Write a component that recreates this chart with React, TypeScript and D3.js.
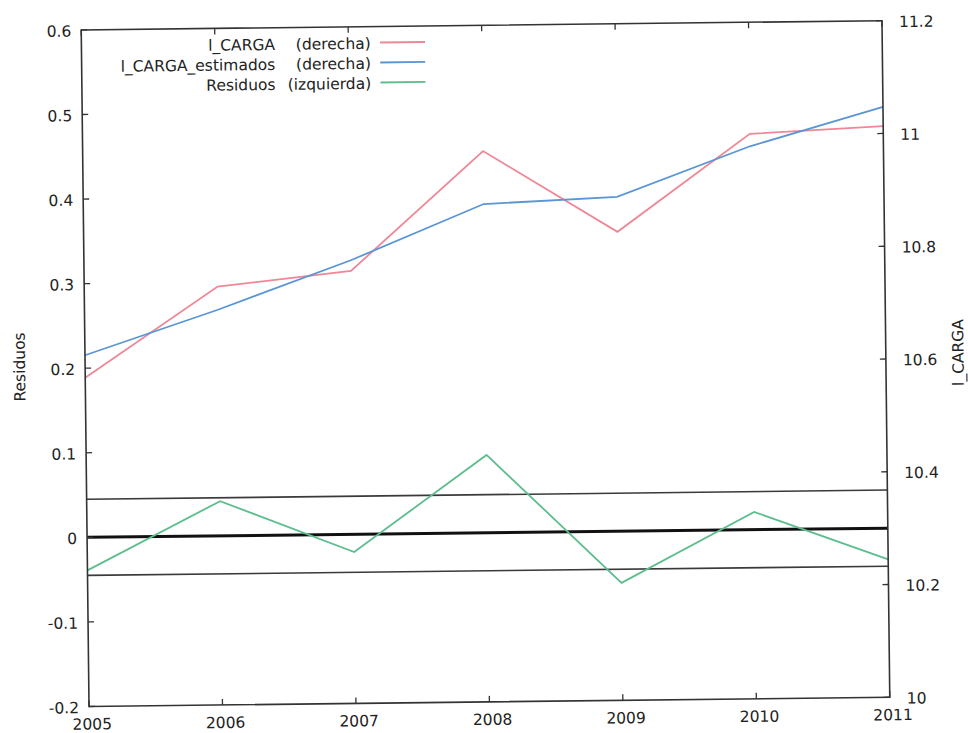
import React from 'react';
import * as d3 from 'd3';

const years = [2005, 2006, 2007, 2008, 2009, 2010, 2011];
const lCarga = [10.583, 10.742, 10.767, 10.977, 10.831, 11.002, 11.013];
const lCargaEst = [10.623, 10.701, 10.786, 10.883, 10.893, 10.98, 11.047];
const residuos = [-0.039, 0.041, -0.021, 0.092, -0.061, 0.021, -0.037];
const leftTicks = [-0.2, -0.1, 0, 0.1, 0.2, 0.3, 0.4, 0.5, 0.6];
const rightTicks = [10, 10.2, 10.4, 10.6, 10.8, 11, 11.2];
const bandLevels = [0.045, -0.045];
const zeroLevel = 0;
const legendNames = ['l_CARGA', 'l_CARGA_estimados', 'Residuos'];
const legendSides = ['(derecha)', '(derecha)', '(izquierda)'];
const seriesColors = ['#ef8796', '#5a95d6', '#5dbd8e'];

const W = 968;
const H = 733;
const M = { left: 85.1, right: 885.9, top: 25.3, bottom: 701.9 };
const FONT = '"DejaVu Sans", Verdana, sans-serif';
const FS = 15.5;

export default function App() {
  const x = d3.scaleLinear().domain([2005, 2011]).range([M.left, M.right]);
  const yL = d3.scaleLinear().domain([-0.2, 0.6]).range([M.bottom, M.top]);
  const yR = d3.scaleLinear().domain([10, 11.2]).range([M.bottom, M.top]);

  const lineR = d3
    .line<number>()
    .x((_, i) => x(years[i]))
    .y((d) => yR(d));
  const lineL = d3
    .line<number>()
    .x((_, i) => x(years[i]))
    .y((d) => yL(d));

  const fmt = (v: number) => String(+v.toFixed(1));
  const tickLen = 6;

  return (
    <svg
      width={W}
      height={H}
      style={{ position: 'absolute', left: 0, top: 0, background: '#fff' }}
      fontFamily={FONT}
      fontSize={FS}
    >
      <rect x={0} y={0} width={W} height={H} fill="#fff" />
      <g transform="rotate(-0.66 485.5 363.6)">
        {bandLevels.map((b, i) => (
          <line
            key={'b' + i}
            x1={M.left}
            x2={M.right}
            y1={yL(b)}
            y2={yL(b)}
            stroke="#3a3a3a"
            strokeWidth={1.6}
          />
        ))}
        <line
          x1={M.left}
          x2={M.right}
          y1={yL(zeroLevel)}
          y2={yL(zeroLevel)}
          stroke="#111"
          strokeWidth={3}
        />
        <path d={lineR(lCarga) || ''} fill="none" stroke={seriesColors[0]} strokeWidth={1.8} />
        <path d={lineR(lCargaEst) || ''} fill="none" stroke={seriesColors[1]} strokeWidth={1.8} />
        <path d={lineL(residuos) || ''} fill="none" stroke={seriesColors[2]} strokeWidth={1.8} />

        <rect
          x={M.left}
          y={M.top}
          width={M.right - M.left}
          height={M.bottom - M.top}
          fill="none"
          stroke="#333"
          strokeWidth={1.6}
        />

        {leftTicks.map((t) => (
          <g key={'l' + t}>
            <line x1={M.left} x2={M.left + tickLen} y1={yL(t)} y2={yL(t)} stroke="#333" strokeWidth={1.3} />
            <text x={M.left - 10} y={yL(t) + 6.5} textAnchor="end" fill="#222">
              {fmt(t)}
            </text>
          </g>
        ))}
        {rightTicks.map((t) => (
          <g key={'r' + t}>
            <line x1={M.right - tickLen} x2={M.right} y1={yR(t)} y2={yR(t)} stroke="#333" strokeWidth={1.3} />
            <text x={M.right + 17} y={yR(t) + 6.5} textAnchor="start" fill="#222">
              {fmt(t)}
            </text>
          </g>
        ))}
        {years.map((yr) => (
          <g key={'x' + yr}>
            <line x1={x(yr)} x2={x(yr)} y1={M.bottom} y2={M.bottom - tickLen} stroke="#333" strokeWidth={1.3} />
            <line x1={x(yr)} x2={x(yr)} y1={M.top} y2={M.top + tickLen} stroke="#333" strokeWidth={1.3} />
            <text x={x(yr) + 3} y={M.bottom + 23} textAnchor="middle" fill="#222">
              {yr}
            </text>
          </g>
        ))}

        <text transform={`translate(25 361.6) rotate(-90)`} textAnchor="middle" fill="#222">
          Residuos
        </text>
        <text transform={`translate(963.5 358) rotate(-90)`} textAnchor="middle" fill="#222">
          l_CARGA
        </text>

        {legendNames.map((n, i) => (
          <g key={'lg' + i}>
            <text x={278.7} y={47.5 + i * 20} textAnchor="end" fill="#222">
              {n}
            </text>
            <text x={374.4} y={47.5 + i * 20} textAnchor="end" fill="#222">
              {legendSides[i]}
            </text>
            <line
              x1={383.7}
              x2={428.7}
              y1={41.3 + i * 20}
              y2={41.3 + i * 20}
              stroke={seriesColors[i]}
              strokeWidth={1.8}
            />
          </g>
        ))}
      </g>
    </svg>
  );
}
